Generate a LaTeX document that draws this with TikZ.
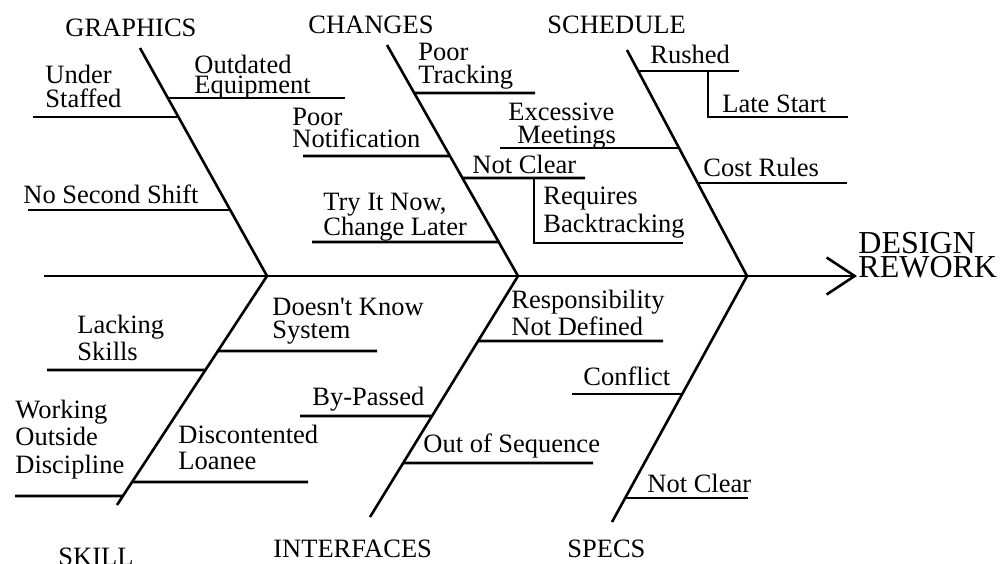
\documentclass[tikz,border=0pt]{standalone}
\usepackage{fontspec}
\setmainfont{Liberation Serif}
\usetikzlibrary{arrows.meta}

\begin{document}
\begin{tikzpicture}[
  x=0.5pt, y=-0.5pt,
  bone/.style={line width=1.3pt},
  twig/.style={line width=1.3pt},
  category/.style={font=\fontsize{13.25}{12}\selectfont, inner sep=0pt, anchor=base west},
  cause/.style={font=\fontsize{13.25}{#1}\selectfont, inner sep=0pt, anchor=base west, align=left},
  cause/.default=12,
  effect/.style={font=\fontsize{16}{12}\selectfont, inner sep=0pt, anchor=base west, align=left}
]
\useasboundingbox (0,0) rectangle (1005,563);
% spine and joints
\coordinate (tail) at (44,276);
\coordinate (tip) at (857,276);
\coordinate (gr) at (267,276);
\coordinate (ch) at (518,276);
\coordinate (sc) at (747,276);
% free ends of the bones
\coordinate (grT) at (140,48);
\coordinate (chT) at (387,45);
\coordinate (scT) at (627,50);
\coordinate (skB) at (117,505);
\coordinate (inB) at (370,517);
\coordinate (spB) at (612,522);
\draw[bone, -{Straight Barb[length=14pt, width=18.5pt]}] (tail) -- (tip);
\node[effect] (rework) at (858,277) {DESIGN\\REWORK};

% GRAPHICS
\node[category] (graphics) at (65,36) {GRAPHICS};
\draw[bone] (grT) -- (gr);
\coordinate (gr1) at (intersection of grT--gr and 0,98--1,98);
\coordinate (gr2) at (intersection of grT--gr and 0,117--1,117);
\coordinate (gr3) at (intersection of grT--gr and 0,210--1,210);
\draw[twig] (gr1) -- (345,98);
\draw[twig] (33,117) -- (gr2);
\draw[twig] (28,210) -- (gr3);
\node[cause=8.5] (outdated) at (194,93) {Outdated\\Equipment};
\node[cause] (staffed) at (45,107) {Under\\Staffed};
\node[cause] (shift) at (23,203) {No Second Shift};

% CHANGES
\node[category] (changes) at (308,33) {CHANGES};
\draw[bone] (chT) -- (ch);
\coordinate (ch1) at (intersection of chT--ch and 0,93--1,93);
\coordinate (ch2) at (intersection of chT--ch and 0,156--1,156);
\coordinate (ch3) at (intersection of chT--ch and 0,178--1,178);
\coordinate (ch4) at (intersection of chT--ch and 0,242--1,242);
\draw[twig] (ch1) -- (535,93);
\draw[twig] (303,156) -- (ch2);
\draw[twig] (ch3) -- (585,178);
\draw[twig] (534,178) -- (534,243) -- (683,243);
\draw[twig] (312,242) -- (ch4);
\node[cause=11.5] (tracking) at (418,83) {Poor\\Tracking};
\node[cause=11] (notification) at (292,147) {Poor\\Notification};
\node[cause] (unclear) at (472,173) {Not Clear};
\node[cause=14] (backtrack) at (543,232) {Requires\\Backtracking};
\node[cause=12.5] (trynow) at (323,235) {Try It Now,\\Change Later};

% SCHEDULE
\node[category] (schedule) at (547,33) {SCHEDULE};
\draw[bone] (scT) -- (sc);
\coordinate (sc1) at (intersection of scT--sc and 0,71--1,71);
\coordinate (sc2) at (intersection of scT--sc and 0,148--1,148);
\coordinate (sc3) at (intersection of scT--sc and 0,183--1,183);
\draw[twig] (sc1) -- (739,71);
\draw[twig] (708,71) -- (708,117) -- (848,117);
\draw[twig] (500,148) -- (sc2);
\draw[twig] (sc3) -- (847,183);
\node[cause] (rushed) at (650,63) {Rushed};
\node[cause] (late) at (722,112) {Late Start};
\node[cause=11.5] (meetings) at (508,143) {Excessive\\\hspace*{4.5pt}Meetings};
\node[cause] (cost) at (703,176) {Cost Rules};

% SKILL
\node[category] (skill) at (58,565) {SKILL};
\draw[bone] (gr) -- (skB);
\coordinate (sk1) at (intersection of gr--skB and 0,351--1,351);
\coordinate (sk2) at (intersection of gr--skB and 0,370--1,370);
\coordinate (sk3) at (intersection of gr--skB and 0,482--1,482);
\coordinate (sk4) at (intersection of gr--skB and 0,496--1,496);
\draw[twig] (sk1) -- (377,351);
\draw[twig] (47,370) -- (sk2);
\draw[twig] (sk3) -- (308,482);
\draw[twig] (15,496) -- (sk4);
\node[cause=11.5] (doesnt) at (272,338) {Doesn\textquotesingle t Know\\System};
\node[cause=13.5] (lacking) at (77,360) {Lacking\\Skills};
\node[cause=13] (loanee) at (178,469) {Discontented\\Loanee};
\node[cause=13.75] (outside) at (15,473) {Working\\Outside\\Discipline};

% INTERFACES
\node[category] (interfaces) at (273,557) {INTERFACES};
\draw[bone] (ch) -- (inB);
\coordinate (in1) at (intersection of ch--inB and 0,341--1,341);
\coordinate (in2) at (intersection of ch--inB and 0,416--1,416);
\coordinate (in3) at (intersection of ch--inB and 0,463--1,463);
\draw[twig] (in1) -- (663,341);
\draw[twig] (300,416) -- (in2);
\draw[twig] (in3) -- (593,463);
\node[cause=13.5] (responsibility) at (511,335) {Responsibility\\Not Defined};
\node[cause] (bypassed) at (312,405) {By-Passed};
\node[cause] (sequence) at (423,452) {Out of Sequence};

% SPECS
\node[category] (specs) at (567,557) {SPECS};
\draw[bone] (sc) -- (spB);
\coordinate (sp1) at (intersection of sc--spB and 0,394--1,394);
\coordinate (sp2) at (intersection of sc--spB and 0,498--1,498);
\draw[twig] (572,394) -- (sp1);
\draw[twig] (sp2) -- (748,498);
\node[cause] (conflict) at (583,385) {Conflict};
\node[cause] (vague) at (647,492) {Not Clear};
\end{tikzpicture}
\end{document}
